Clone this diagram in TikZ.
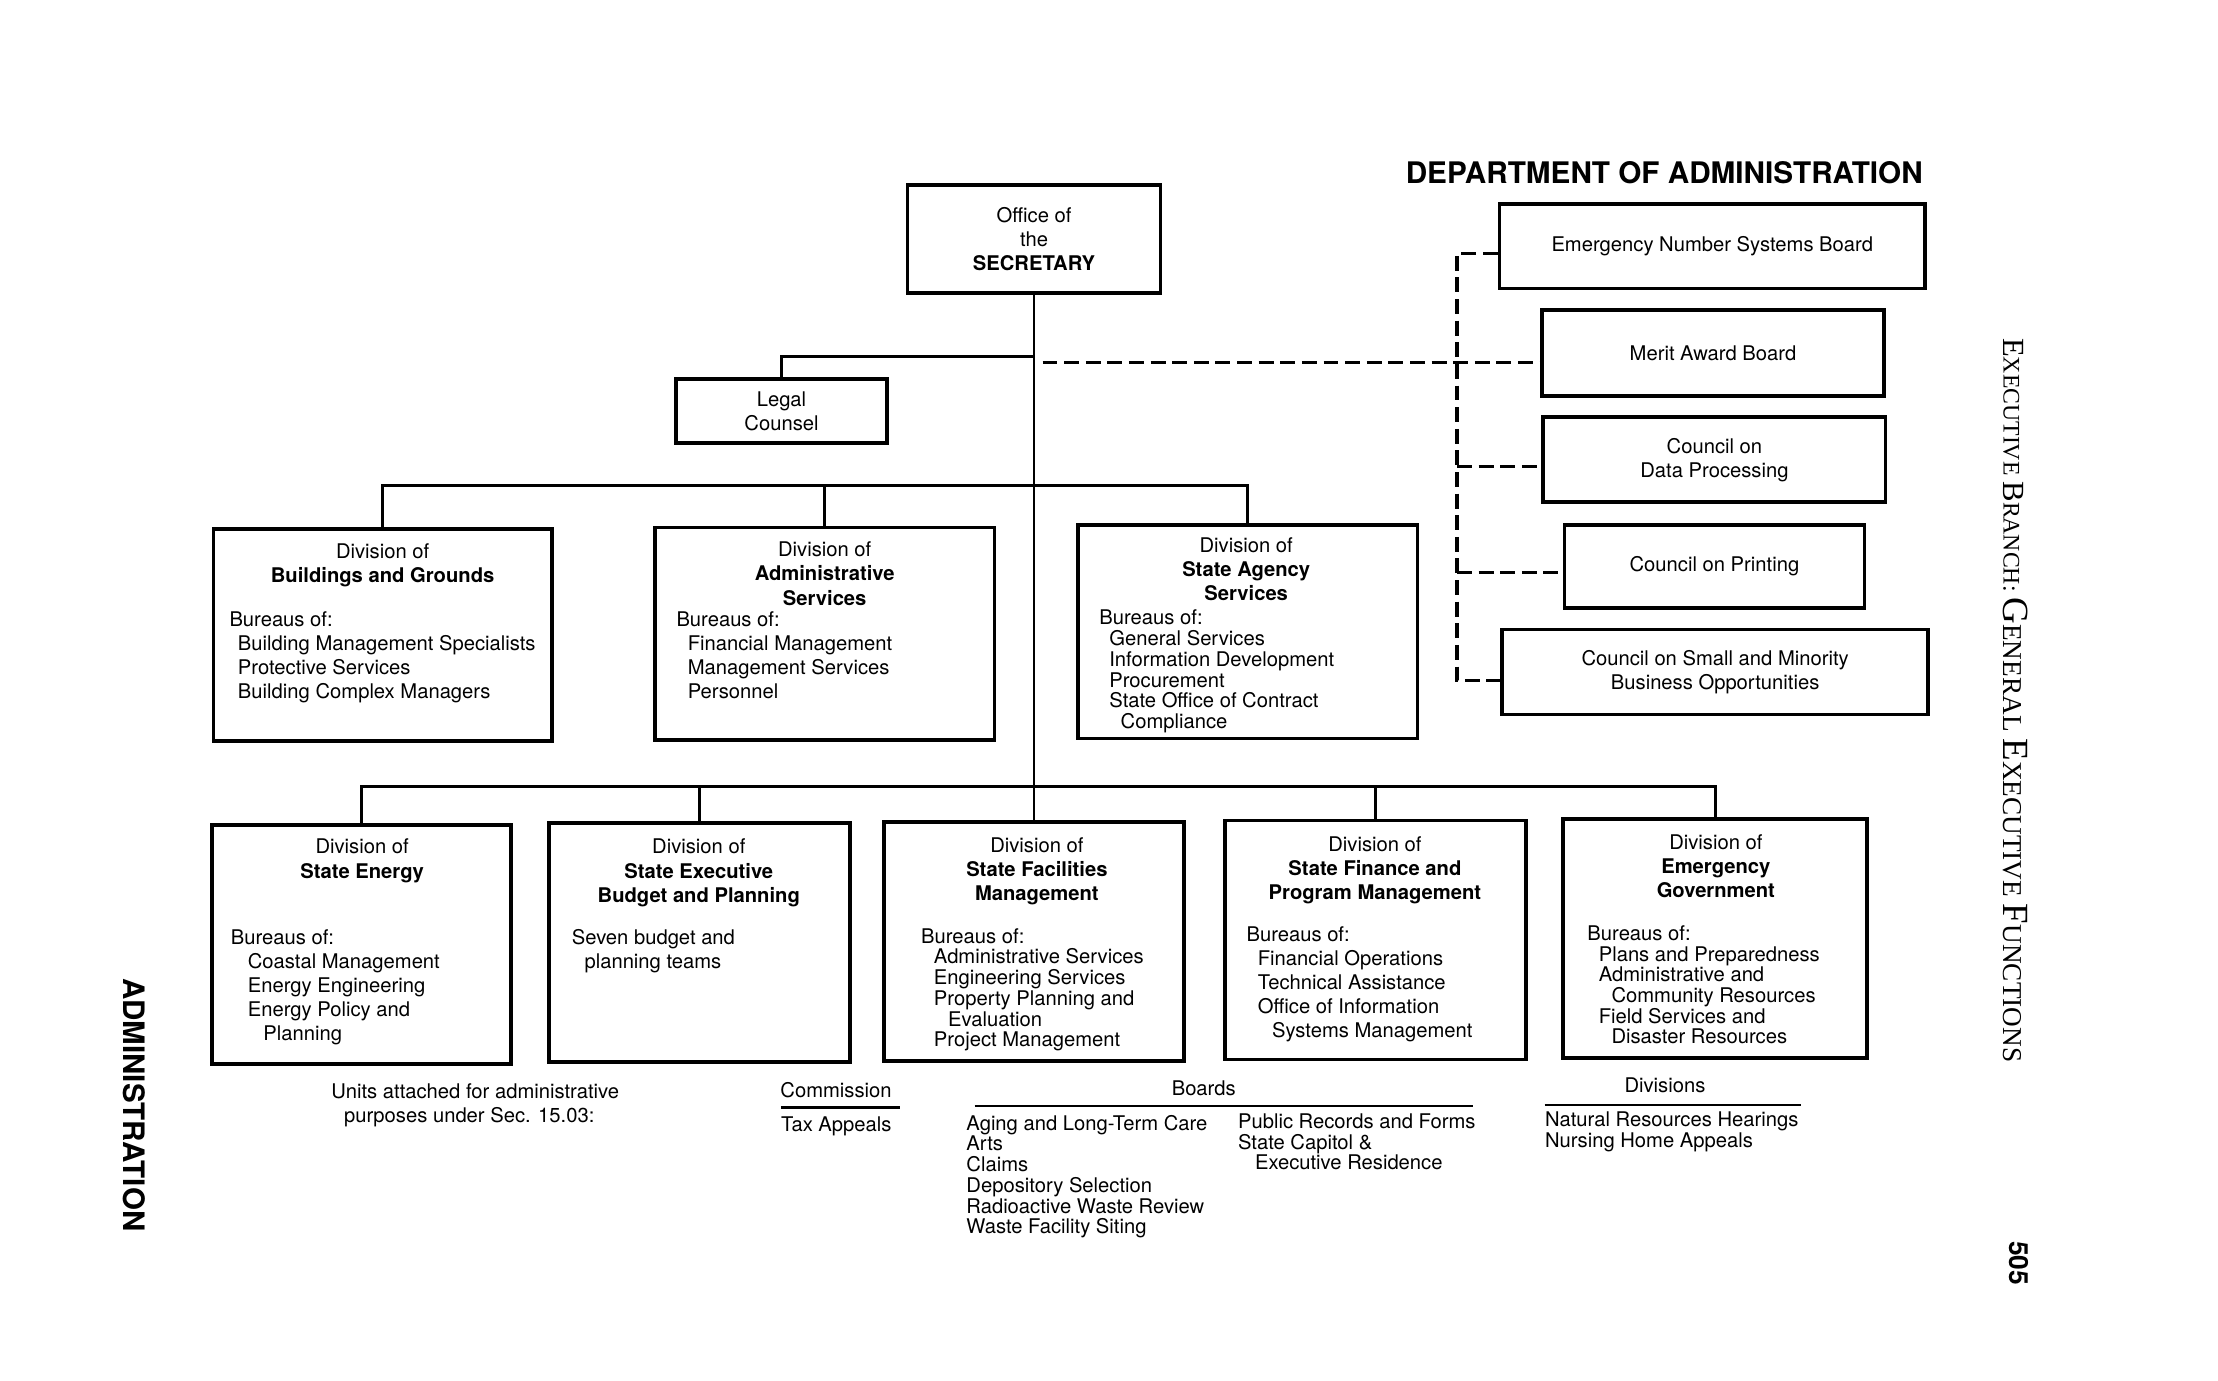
\documentclass[tikz,border=0pt]{standalone}
\usepackage{fontspec}
\usepackage{tikz}
\newfontfamily\helv{TeX Gyre Heros}
\newfontfamily\tms{Liberation Serif}
\newdimen\pxd \pxd=0.2829mm
\newcommand\ind[1]{\hspace*{#1\pxd}}
% fake small caps for the running head
\newcommand\capA[1]{{\fontsize{17.5}{20}\selectfont #1}}
\newcommand\capa[1]{{\fontsize{13.5}{16}\selectfont #1}}
\newcommand\capB[1]{{\fontsize{21}{24}\selectfont #1}}
\newcommand\capb[1]{{\fontsize{15.5}{18}\selectfont #1}}
\tikzset{
  box/.style 2 args={draw, line width=2.1pt, inner sep=0pt, align=center,
    minimum width=#1*\pxd, minimum height=#2*\pxd},
  link/.style={line width=1.6pt},
  dlink/.style={line width=1.8pt, dash pattern=on 8.5pt off 3.8pt},
  rule/.style={line width=1.3pt},
  txt/.style={inner sep=0pt, align=left, anchor=north west},
  hd/.style={inner sep=0pt, align=center, anchor=north},
  tight/.style={font={\helv\fontsize{11.5}{11.8}\selectfont}}
}

\begin{document}
\begin{tikzpicture}[x=0.2829mm, y=-0.2829mm, font={\helv\fontsize{11.5}{13.7}\selectfont}]
\useasboundingbox (0,0) rectangle (1568,976);

\node[anchor=base, font={\helv\bfseries\fontsize{16.9}{20}\selectfont}] (title) at (1176.5,129.5) {DEPARTMENT OF ADMINISTRATION};

% secretary and legal counsel
\node[box={179}{76}] (secy) at (731,169) {Office of\\the\\\textbf{SECRETARY}};
\node[box={149}{45}] (legal) at (552.5,290.5) {Legal\\Counsel};

% attached boards and councils
\node[box={301}{60}] (ens) at (1210.5,174) {Emergency Number Systems Board};
\node[box={242}{61}] (mab) at (1211,249.5) {Merit Award Board};
\node[box={242}{60}] (cdp) at (1212,325) {Council on\\Data Processing};
\node[box={212}{59}] (cp) at (1212,400.5) {Council on Printing};
\node[box={301}{60}] (csm) at (1212.5,475) {Council on Small and Minority\\Business Opportunities};

% divisions, upper row
\node[box={239}{150}] (bg) at (270.5,449) {};
\node[box={240}{150}] (as) at (583,448) {};
\node[box={240}{151}] (sa) at (882,446.5) {};
\node[hd] (bgh) at (270.5,384) {Division of\\\textbf{Buildings and Grounds}};
\node[txt] (bgl) at (162,432) {Bureaus of:\\\ind{6}Building Management Specialists\\\ind{6}Protective Services\\\ind{6}Building Complex Managers};
\node[hd] (ash) at (583,383) {Division of\\\textbf{Administrative}\\\textbf{Services}};
\node[txt] (asl) at (478,432) {Bureaus of:\\\ind{8}Financial Management\\\ind{8}Management Services\\\ind{8}Personnel};
\node[hd] (sah) at (881,380) {Division of\\\textbf{State Agency}\\\textbf{Services}};
\node[txt, tight] (sal) at (777,431) {Bureaus of:\\\ind{7}General Services\\\ind{7}Information Development\\\ind{7}Procurement\\\ind{7}State Office of Contract\\\ind{15}Compliance};

% divisions, lower row
\node[box={211}{169}] (en) at (255.5,667.5) {};
\node[box={213}{169}] (bp) at (494.5,666.5) {};
\node[box={212}{169}] (fm) at (731,665.5) {};
\node[box={213}{169}] (fp) at (972.5,664.5) {};
\node[box={215}{169}] (eg) at (1212.5,663.5) {};
\node[hd] (enh) at (256,593) {Division of\\\textbf{State Energy}};
\node[txt] (enl) at (163,657) {Bureaus of:\\\ind{12}Coastal Management\\\ind{12}Energy Engineering\\\ind{12}Energy Policy and\\\ind{23}Planning};
\node[hd] (bph) at (494,593) {Division of\\\textbf{State Executive}\\\textbf{Budget and Planning}};
\node[txt] (bpl) at (404,657) {Seven budget and\\\ind{9}planning teams};
\node[hd] (fmh) at (733,592) {Division of\\\textbf{State Facilities}\\\textbf{Management}};
\node[txt, tight] (fml) at (651,656) {Bureaus of:\\\ind{9}Administrative Services\\\ind{9}Engineering Services\\\ind{9}Property Planning and\\\ind{19}Evaluation\\\ind{9}Project Management};
\node[hd] (fph) at (972,591) {Division of\\\textbf{State Finance and}\\\textbf{Program Management}};
\node[txt] (fpl) at (881,655) {Bureaus of:\\\ind{8}Financial Operations\\\ind{8}Technical Assistance\\\ind{8}Office of Information\\\ind{18}Systems Management};
\node[hd] (egh) at (1213,590) {Division of\\\textbf{Emergency}\\\textbf{Government}};
\node[txt, tight] (egl) at (1122,654) {Bureaus of:\\\ind{8}Plans and Preparedness\\\ind{8}Administrative and\\\ind{17}Community Resources\\\ind{8}Field Services and\\\ind{17}Disaster Resources};

% solid lines
\coordinate (jl) at (731,252);
\coordinate (jm) at (731,343);
\coordinate (jb) at (731,556);
\draw[link] (secy.south) -- (secy.south |- fm.north);
\draw[link] (jl) -| (legal.north);
\draw[link] (bg.north) |- (jm) -| (sa.north);
\draw[link] (as.north) -- (as.north |- jm);
\draw[link] (en.north) |- (jb) -| (eg.north);
\draw[link] (bp.north) -- (bp.north |- jb);
\draw[link] (fp.north) -- (fp.north |- jb);

% dashed lines
\coordinate (s1) at (1030,179);
\coordinate (s2) at (737,256);
\coordinate (s3) at (1030,330);
\coordinate (s4) at (1030,405);
\coordinate (s5) at (1030,481);
\draw[dlink] (ens.west |- s1) -- (s1) -- (s5) -- (s5 -| csm.west);
\draw[dlink] (s2) -- (s2 -| mab.west);
\draw[dlink] (s3) -- (s3 -| cdp.west);
\draw[dlink] (s4) -- (s4 -| cp.west);

% attached units
\node[txt] (units) at (234,766) {Units attached for administrative\\\ind{9}purposes under Sec. 15.03:};
\node[hd] (comm) at (591,765) {Commission};
\draw[rule] (552,783) -- (636,783);
\node[txt] (tax) at (552,789) {Tax Appeals};
\node[hd] (brd) at (851,764) {Boards};
\draw[rule] (689,782) -- (1041,782);
\node[txt, tight] (brdl) at (683,788) {Aging and Long-Term Care\\Arts\\Claims\\Depository Selection\\Radioactive Waste Review\\Waste Facility Siting};
\node[txt, tight] (brdr) at (875,787) {Public Records and Forms\\State Capitol \&\\\ind{12}Executive Residence};
\node[hd] (dvs) at (1177,762) {Divisions};
\draw[rule] (1092,781) -- (1273,781);
\node[txt, tight] (dvsl) at (1092,786) {Natural Resources Hearings\\Nursing Home Appeals};

% page margins
\node[font={\helv\bfseries\fontsize{16.8}{20}\selectfont}, rotate=-90] (side) at (95,781) {ADMINISTRATION};
\node[font=\tms, rotate=-90] (branch) at (1425,495) {\capA{E}\capa{XECUTIVE }\capA{B}\capa{RANCH: }\capB{G}\capb{ENERAL }\capB{E}\capb{XECUTIVE }\capB{F}\capb{UNCTIONS}};
\node[font={\helv\bfseries\fontsize{15}{18}\selectfont}, rotate=-90] (pg) at (1427,893) {505};
\end{tikzpicture}
\end{document}
